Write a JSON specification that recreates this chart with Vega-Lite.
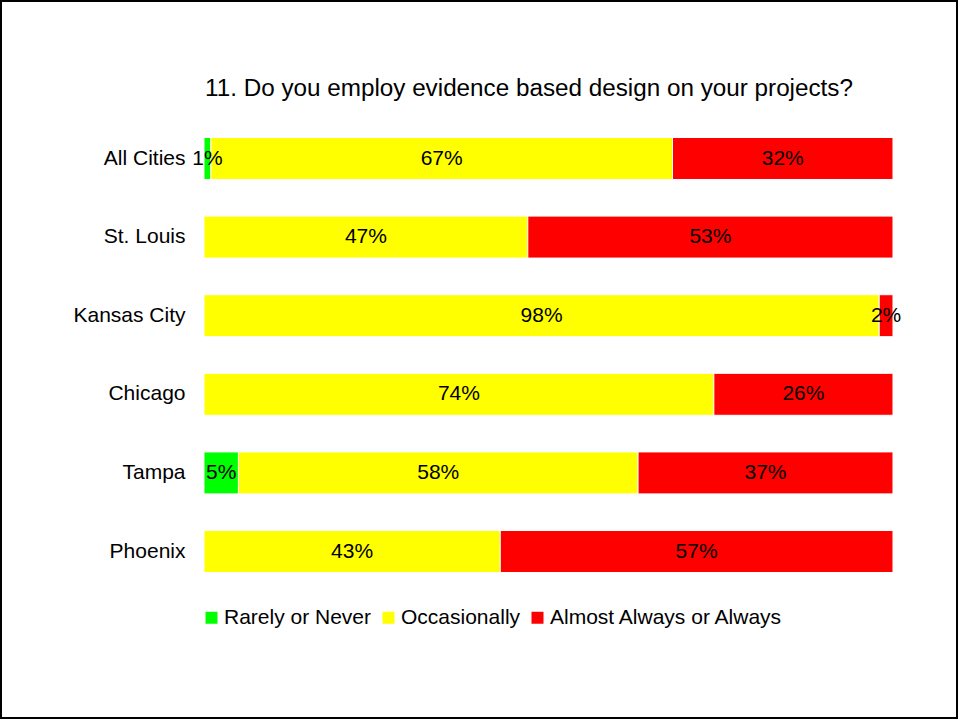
{
  "$schema": "https://vega.github.io/schema/vega-lite/v6.json",
  "width": 956,
  "height": 717,
  "autosize": {"type": "none"},
  "padding": {"left": 1, "top": 1, "right": 1, "bottom": 1},
  "background": "white",
  "config": {"view": {"stroke": "black", "strokeWidth": 2}, "font": "Liberation Sans"},
  "title": {
    "text": "11. Do you employ evidence based design on your projects?",
    "anchor": "start",
    "frame": "group",
    "dx": 204,
    "dy": 123,
    "fontSize": 24.25,
    "fontWeight": "normal",
    "color": "black",
    "font": "Liberation Sans",
    "baseline": "alphabetic"
  },
  "data": {
    "values": [
      {"city": "All Cities", "response": "Rarely or Never", "o": 1, "pct": 0.01},
      {"city": "All Cities", "response": "Occasionally", "o": 2, "pct": 0.67},
      {"city": "All Cities", "response": "Almost Always or Always", "o": 3, "pct": 0.32},
      {"city": "St. Louis", "response": "Occasionally", "o": 2, "pct": 0.47},
      {"city": "St. Louis", "response": "Almost Always or Always", "o": 3, "pct": 0.53},
      {"city": "Kansas City", "response": "Occasionally", "o": 2, "pct": 0.98},
      {"city": "Kansas City", "response": "Almost Always or Always", "o": 3, "pct": 0.02},
      {"city": "Chicago", "response": "Occasionally", "o": 2, "pct": 0.74},
      {"city": "Chicago", "response": "Almost Always or Always", "o": 3, "pct": 0.26},
      {"city": "Tampa", "response": "Rarely or Never", "o": 1, "pct": 0.05},
      {"city": "Tampa", "response": "Occasionally", "o": 2, "pct": 0.58},
      {"city": "Tampa", "response": "Almost Always or Always", "o": 3, "pct": 0.37},
      {"city": "Phoenix", "response": "Occasionally", "o": 2, "pct": 0.43},
      {"city": "Phoenix", "response": "Almost Always or Always", "o": 3, "pct": 0.57}
    ]
  },
  "layer": [
    {
      "mark": {"type": "bar", "stroke": "white", "strokeWidth": 1},
      "encoding": {
        "y": {
          "field": "city",
          "type": "nominal",
          "sort": ["All Cities", "St. Louis", "Kansas City", "Chicago", "Tampa", "Phoenix"],
          "scale": {"range": [118.2, 589.8], "paddingInner": 0.466, "paddingOuter": 0.233},
          "axis": {
            "title": null,
            "domain": false,
            "ticks": false,
            "tickSize": 0,
            "labelPadding": 0,
            "offset": -184,
            "labelFontSize": 21,
            "labelColor": "black",
            "labelFont": "Liberation Sans"
          }
        },
        "x": {
          "field": "pct",
          "type": "quantitative",
          "stack": "zero",
          "scale": {"domain": [-0.2946, 1.0929], "nice": false, "zero": false},
          "axis": null
        },
        "color": {
          "field": "response",
          "type": "nominal",
          "scale": {
            "domain": ["Rarely or Never", "Occasionally", "Almost Always or Always"],
            "range": ["#00ff00", "#ffff00", "#ff0000"]
          },
          "legend": {
            "orient": "none",
            "legendX": 200,
            "legendY": 606,
            "direction": "horizontal",
            "title": null,
            "symbolType": "square",
            "symbolSize": 144,
            "symbolStrokeWidth": 0,
            "labelFontSize": 21,
            "labelColor": "black",
            "labelFont": "Liberation Sans",
            "labelLimit": 400,
            "columnPadding": 6,
            "labelOffset": 2,
            "padding": 0
          }
        },
        "order": {"field": "o"}
      }
    },
    {
      "mark": {"type": "text", "fontSize": 21, "color": "black", "font": "Liberation Sans"},
      "encoding": {
        "y": {
          "field": "city",
          "type": "nominal",
          "sort": ["All Cities", "St. Louis", "Kansas City", "Chicago", "Tampa", "Phoenix"]
        },
        "x": {"field": "pct", "type": "quantitative", "stack": "zero", "bandPosition": 0.5},
        "text": {"field": "pct", "type": "quantitative", "format": ".0%"},
        "order": {"field": "o"}
      }
    }
  ]
}
